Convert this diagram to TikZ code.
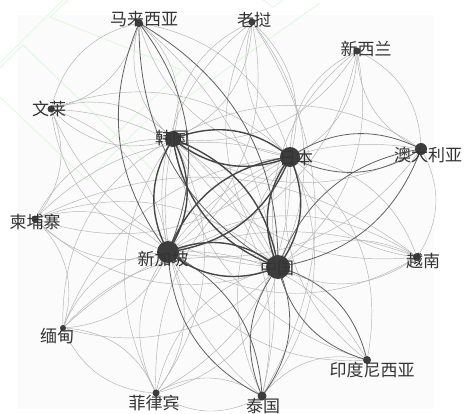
\documentclass[tikz,border=0pt]{standalone}
\usepackage{fontspec}
\newfontfamily\cjk{Noto Sans CJK SC}
\usepackage{tikz}

\tikzset{
	thin edge/.style={draw=gray!60, line width=0.45pt},
	mid edge/.style={draw=black!62, line width=0.8pt},
	hub edge/.style={draw=black!72, line width=1.4pt},
	wmark/.style={draw={rgb,255:red,222;green,250;blue,222}, line width=0.9pt},
	country/.style={font=\cjk\fontsize{17}{17}\selectfont, text=black!80, inner sep=0pt},
	dot/.style={fill=black!76, draw=none}
}

\begin{document}
\begin{tikzpicture}[x=1pt, y=-1pt]
			\useasboundingbox (0,0) rectangle (465,414);
			\fill[gray!3] (18,15) rectangle (434,409);
			
			% watermark
			\draw[wmark] (0,63) -- (63,0);
			\draw[wmark] (0,68) -- (23,45) -- (160,177);
			\draw[wmark] (68,0) -- (50,17) -- (182,70) -- (100,150);
			\draw[wmark] (0,97) -- (87,180) -- (147,120);
			\draw[wmark] (320,3) -- (183,100);
			\draw[wmark] (263,0) -- (273,7) -- (283,0);
			
			\coordinate (my) at (139,23);
			\coordinate (la) at (252,22);
			\coordinate (nz) at (357,51);
			\coordinate (bn) at (51,109);
			\coordinate (kr) at (173,139);
			\coordinate (jp) at (290,157);
			\coordinate (au) at (421,149);
			\coordinate (kh) at (35,219);
			\coordinate (sg) at (168,252);
			\coordinate (cn) at (278,267);
			\coordinate (vn) at (417,257);
			\coordinate (mm) at (63,328);
			\coordinate (id) at (367,360);
			\coordinate (ph) at (156,393);
			\coordinate (th) at (262,396);
			
			% thin lenses
			\foreach \a/\b in {my/kr, my/jp, la/kr, la/jp, la/cn, la/sg, nz/jp, nz/cn,
				bn/kr, bn/sg, bn/cn, au/kr, au/sg, kh/sg, kh/cn, kh/jp, vn/cn, vn/sg,
				vn/jp, mm/sg, mm/cn, id/sg, id/jp, ph/sg, ph/cn, ph/jp, ph/kr, th/jp,
				th/kr, my/bn, nz/au, ph/th, mm/ph}{
				\draw[thin edge] (\a) to[bend left=32] (\b);
				\draw[thin edge] (\b) to[bend left=32] (\a);
			}
			
			% thin single arcs
			\foreach \a/\b in {nz/kr, nz/sg, kh/kr, mm/jp, mm/kr, id/kr, vn/kr, bn/jp,
				kh/vn, mm/vn, th/id, la/th, my/th, bn/kh, au/vn, kh/mm}{
				\draw[thin edge] (\a) to[bend left=32] (\b);
			}
			
			% darker lenses
			\foreach \a/\b in {my/sg, my/cn, au/jp, au/cn, id/cn, th/cn, th/sg}{
				\draw[mid edge] (\a) to[bend left=30] (\b);
				\draw[mid edge] (\b) to[bend left=30] (\a);
			}
			
			% hubs
			\foreach \a/\b in {sg/jp, sg/cn, cn/jp, kr/cn, kr/sg, kr/jp}{
				\draw[hub edge] (\a) to[bend left=30] (\b);
				\draw[hub edge] (\b) to[bend left=30] (\a);
			}
			
			\draw[dot] (my) circle[radius=4];
			\draw[dot] (la) circle[radius=3.5];
			\draw[dot] (nz) circle[radius=3.5];
			\draw[dot] (bn) circle[radius=3.5];
			\draw[dot] (kr) circle[radius=8];
			\draw[dot] (jp) circle[radius=10];
			\draw[dot] (au) circle[radius=6];
			\draw[dot] (kh) circle[radius=3.5];
			\draw[dot] (sg) circle[radius=11];
			\draw[dot] (cn) circle[radius=12];
			\draw[dot] (vn) circle[radius=4];
			\draw[dot] (mm) circle[radius=3];
			\draw[dot] (id) circle[radius=4];
			\draw[dot] (ph) circle[radius=3.5];
			\draw[dot] (th) circle[radius=4.5];
			
			\node[country] (lab-my) at (144,19) {马来西亚};
			\node[country] (lab-la) at (254,20) {老挝};
			\node[country] (lab-nz) at (366,49) {新西兰};
			\node[country] (lab-bn) at (49,109) {文莱};
			\node[country] (lab-kr) at (172,138) {韩国};
			\node[country] (lab-jp) at (296,158) {日本};
			\node[country] (lab-au) at (428,155) {澳大利亚};
			\node[country] (lab-kh) at (35,222) {柬埔寨};
			\node[country] (lab-sg) at (163,259) {新加坡};
			\node[country] (lab-cn) at (277,268) {中国};
			\node[country] (lab-vn) at (423,261) {越南};
			\node[country] (lab-mm) at (57,336) {缅甸};
			\node[country] (lab-id) at (372,370) {印度尼西亚};
			\node[country] (lab-ph) at (154,403) {菲律宾};
			\node[country] (lab-th) at (263,406) {泰国};
			\end{tikzpicture}
\end{document}
